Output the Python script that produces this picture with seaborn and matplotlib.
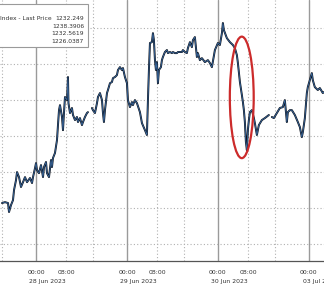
import numpy as np
import pandas as pd
import matplotlib
matplotlib.use("Agg")
import matplotlib.pyplot as plt
import matplotlib.transforms as mtransforms
from matplotlib.patches import Ellipse, Rectangle
import seaborn as sns

# ---- data (hours since 28 Jun 2023 00:00, weekend compressed: 03 Jul 00:00 = 72) ----
hours_s1 = [-8.97, -8.18, -7.38, -7.12, -6.59, -6.07, -5.80, -5.27, -5.01, -4.48, -3.96, -3.43,
            -2.90, -2.37, -1.58, -1.05, -0.79, -0.26, 0.0, 0.26, 0.79, 1.32, 1.85, 2.11, 2.64,
            2.90, 3.43, 3.96, 4.22, 4.48, 5.01, 5.54, 5.80, 6.07, 6.33, 6.86, 7.12, 7.38, 7.65,
            8.18, 8.44, 8.57, 8.97, 9.49, 9.76, 10.29, 10.81, 11.08, 11.60, 12.13, 12.40, 12.92,
            13.45, 13.71]
price_s1 = [1226.28, 1226.33, 1226.28, 1225.78, 1226.17, 1226.44, 1227.00, 1227.56, 1228.00,
            1227.72, 1227.17, 1227.44, 1227.72, 1227.44, 1227.67, 1227.39, 1227.72, 1228.22,
            1228.50, 1228.11, 1227.94, 1228.39, 1227.72, 1228.28, 1228.56, 1227.94, 1227.72,
            1228.67, 1228.28, 1228.78, 1229.06, 1229.78, 1230.61, 1231.44, 1231.72, 1231.06,
            1230.33, 1231.28, 1232.17, 1232.00, 1233.28, 1231.83, 1231.28, 1231.56, 1231.17,
            1230.89, 1231.06, 1230.78, 1231.00, 1230.61, 1230.78, 1231.06, 1231.28, 1231.33]

hours_s2 = [14.77, 15.03, 15.56, 16.09, 16.35, 16.88, 17.41, 17.67, 17.93, 18.20, 18.73, 18.99,
            19.52, 20.04, 20.31, 20.84, 21.36, 21.63, 22.15, 22.68, 22.95, 23.47, 24.00, 24.26,
            24.79, 25.32, 25.58, 26.11, 26.64, 27.43, 27.96, 28.75, 29.27, 29.54, 29.80, 30.07,
            30.59, 30.86, 31.12, 31.39, 31.65, 31.91, 32.18, 32.44, 32.97, 33.23, 33.49, 34.02,
            34.55, 34.81, 35.34, 35.87, 36.13, 36.66, 37.19, 37.45, 38.51, 38.77, 39.30, 39.82,
            40.09, 40.62, 41.14, 41.41, 41.93, 42.46, 42.73, 43.25, 43.78, 44.57, 45.36, 45.89,
            46.42, 47.21, 48.00, 48.53, 49.06, 49.32, 49.58, 50.37, 51.17, 51.96, 52.48, 53.01,
            53.28, 53.81, 54.33, 54.60, 54.86, 55.12, 55.39, 55.65, 55.91, 56.18, 56.44, 56.97,
            57.50, 57.76, 58.29, 58.81, 59.61, 60.40, 61.45]
price_s2 = [1231.56, 1231.44, 1231.28, 1231.83, 1232.17, 1232.39, 1232.00, 1231.28, 1230.78,
            1231.44, 1232.39, 1232.56, 1232.94, 1233.00, 1233.22, 1233.28, 1233.39, 1233.67,
            1233.83, 1233.67, 1233.78, 1233.28, 1232.94, 1232.00, 1231.61, 1231.89, 1231.72,
            1232.00, 1231.83, 1231.33, 1230.72, 1230.33, 1230.06, 1232.00, 1233.67, 1235.17,
            1235.22, 1235.72, 1235.33, 1234.22, 1233.67, 1234.11, 1232.94, 1233.67, 1233.83,
            1234.22, 1234.39, 1234.67, 1234.78, 1234.61, 1234.67, 1234.61, 1234.67, 1234.61,
            1234.61, 1234.67, 1234.67, 1234.78, 1234.67, 1234.61, 1234.89, 1235.22, 1234.94,
            1235.33, 1235.50, 1234.39, 1234.61, 1234.22, 1234.33, 1234.11, 1234.22, 1234.06,
            1233.83, 1234.78, 1235.17, 1235.06, 1235.72, 1236.28, 1235.89, 1235.44, 1235.22,
            1235.06, 1234.89, 1234.50, 1234.06, 1233.00, 1232.28, 1231.89, 1231.44, 1230.78,
            1229.67, 1229.22, 1230.33, 1230.89, 1231.33, 1231.44, 1231.00, 1230.72, 1230.06,
            1230.61, 1230.89, 1231.00, 1231.17]

hours_s3 = [62.24, 62.77, 63.56, 64.35, 65.14, 65.67, 66.20, 66.46, 66.99, 67.52, 68.31, 69.10,
            69.63, 70.15, 70.42, 70.95, 71.47, 71.73, 72.26, 72.79, 73.05, 73.58, 74.37, 74.90,
            75.69, 75.96]
price_s3 = [1231.06, 1231.00, 1231.28, 1231.56, 1231.61, 1232.00, 1230.78, 1231.33, 1231.44,
            1231.44, 1231.17, 1230.78, 1230.50, 1229.94, 1230.22, 1231.00, 1232.39, 1232.72,
            1233.11, 1233.50, 1233.11, 1232.72, 1232.56, 1232.67, 1232.39, 1232.44]

legend_title = "Index - Last Price"
legend_values = ["1232.249", "1238.3906", "1232.5619", "1226.0387"]

day_labels = ["28 Jun 2023", "29 Jun 2023", "30 Jun 2023", "03 Jul 2023"]
day_midnights = [0, 24, 48, 72]
session_starts = [-9, 15, 39, 63, 87]
hour_ticks = [0, 8, 24, 32, 48, 56, 72]
hour_labels = ["00:00", "08:00", "00:00", "08:00", "00:00", "08:00", "00:00"]
price_grid = [1224, 1226, 1228, 1230, 1232, 1234, 1236]

df = pd.concat([
    pd.DataFrame({"hours": hours_s1, "price": price_s1, "seg": 1}),
    pd.DataFrame({"hours": hours_s2, "price": price_s2, "seg": 2}),
    pd.DataFrame({"hours": hours_s3, "price": price_s3, "seg": 3}),
], ignore_index=True)

sns.set_style("white")
plt.rcParams["font.family"] = ["DejaVu Sans"]

W, H = 324, 284
fig = plt.figure(figsize=(W / 100, H / 100), dpi=100)
ax = fig.add_axes([0, 23 / H, 1, 261 / H])

# gridlines
for p in price_grid:
    ax.axhline(p, color="#b0b0b0", lw=0.8, ls=(0, (1, 2)), zorder=1)
for s in session_starts:
    ax.axvline(s, color="#b0b0b0", lw=0.8, ls=(0, (1, 2)), zorder=1)
for d in day_midnights:
    ax.axvline(d, color="#9a9a9a", lw=1.0, zorder=1)
    ax.axvline(d + 8, color="#b0b0b0", lw=0.8, ls=(0, (1, 2)), zorder=1)

sns.lineplot(data=df, x="hours", y="price", units="seg", estimator=None,
             color="#0b111b", lw=1.4, ax=ax, zorder=3)
sns.lineplot(data=df, x="hours", y="price", units="seg", estimator=None,
             color="#4a86cc", lw=0.5, alpha=0.85, ax=ax, zorder=4)

ax.set_xlim(-9.5, 76.0)
ax.set_ylim(1223.06, 1237.56)
ax.set_xlabel("")
ax.set_ylabel("")
ax.set_yticks([])
for side in ["top", "left", "right"]:
    ax.spines[side].set_visible(False)
ax.spines["bottom"].set_color("#555555")
ax.spines["bottom"].set_linewidth(0.9)

ax.set_xticks(session_starts[:-1])
ax.set_xticklabels([])
ax.set_xticks(np.arange(-8, 76, 4), minor=True)
ax.tick_params(axis="x", which="major", length=5, width=0.8, color="#555555", direction="out")
ax.tick_params(axis="x", which="minor", length=1.5, width=0.6, color="#777777", direction="out")

trans = mtransforms.blended_transform_factory(ax.transData, ax.transAxes)
for h, lab in zip(hour_ticks, hour_labels):
    ax.text(h, -12 / 261, lab, transform=trans, ha="center", va="center",
            fontsize=4.4, color="#333333", clip_on=False)
for i, lab in enumerate(day_labels):
    mid = (session_starts[i] + session_starts[i + 1]) / 2
    ax.text(mid, -20.5 / 261, lab, transform=trans, ha="center", va="center",
            fontsize=4.4, color="#333333", clip_on=False)

# red ellipse highlighting the drop
ax.add_patch(Ellipse((54.3, 1232.15), 6.3, 6.75, fill=False, edgecolor="#cc2b2b",
                     lw=1.6, zorder=5))

# legend box
ax.add_patch(Rectangle((-0.01, 1 - 47 / 261), 88 / W + 0.01, 43 / 261, transform=ax.transAxes,
                       facecolor="white", edgecolor="#9a9a9a", lw=0.8, zorder=6, clip_on=False))
ax.text(0.0, 1 - 19 / 261, legend_title, transform=ax.transAxes, ha="left", va="center",
        fontsize=4.3, color="#333333", zorder=7)
for i, v in enumerate(legend_values):
    ax.text(84 / W, 1 - (19 + 7.4 * i) / 261, v, transform=ax.transAxes, ha="right",
            va="center", fontsize=4.3, color="#333333", zorder=7)

fig.savefig("out.png", dpi=100)
